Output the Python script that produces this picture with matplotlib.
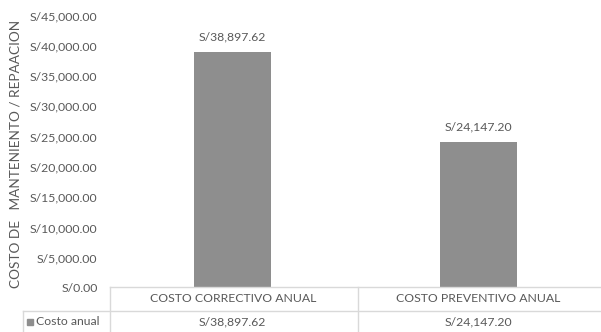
import matplotlib
matplotlib.use("Agg")
import matplotlib.pyplot as plt
from matplotlib.lines import Line2D
from matplotlib.patches import Rectangle

categories = ["COSTO CORRECTIVO ANUAL", "COSTO PREVENTIVO ANUAL"]
values = [38897.62, 24147.20]
series_name = "Costo anual"
y_ticks = [0, 5000, 10000, 15000, 20000, 25000, 30000, 35000, 40000, 45000]
y_label = "COSTO DE   MANTENIENTO / REPAACION"

def fmt(v):
    return "S/{:,.2f}".format(v)

W, H = 601, 332
plt.rcParams['font.family'] = ['Lato', 'DejaVu Sans']
txt = "#595959"
bar_c = "#8e8e8e"
line_c = "#d9d9d9"
fs = 8.8

fig = plt.figure(figsize=(W/100, H/100), dpi=100)
ax = fig.add_axes([110/W, 1-288/H, (601-110)/W, (288-15.5)/H])
x = list(range(len(categories)))
ax.bar(x, values, width=0.315, color=bar_c)
ax.set_xlim(-0.5, len(categories)-0.5)
ax.set_ylim(0, 45000)
ax.set_yticks(y_ticks)
ax.set_yticklabels([fmt(t) for t in y_ticks], color=txt, fontsize=fs)
ax.tick_params(axis='y', length=0, pad=9)
ax.set_xticks([])
for s in ax.spines.values():
    s.set_visible(False)
for xi, v in zip(x, values):
    ax.annotate(fmt(v), (xi, v), xytext=(0, 7), textcoords="offset points",
                ha="center", va="bottom", color=txt, fontsize=fs)

fig.text(16/W, 1-154/H, y_label, rotation=90, ha="center", va="center",
         color=txt, fontsize=9.8)

def fx(px): return px/W
def fy(py): return 1-py/H

lines = [
    ((110, 601), (287, 287)),
    ((23, 601), (310.5, 310.5)),
    ((110, 110), (287, 332)),
    ((357.7, 357.7), (287, 332)),
    ((23, 23), (310.5, 332)),
]
for (xs, ys) in lines:
    fig.add_artist(Line2D([fx(xs[0]), fx(xs[1])], [fy(ys[0]), fy(ys[1])],
                          color=line_c, lw=1.0, transform=fig.transFigure))

trans = matplotlib.transforms.blended_transform_factory(ax.transData, fig.transFigure)
for xi, c, v in zip(x, categories, values):
    ax.text(xi, fy(299), c, transform=trans, ha="center", va="center",
            color=txt, fontsize=fs, clip_on=False)
    ax.text(xi, fy(321.5), fmt(v), transform=trans, ha="center", va="center",
            color=txt, fontsize=fs, clip_on=False)

fig.add_artist(Rectangle((fx(27), fy(325)), 6/W, 6/H, color=bar_c,
                         transform=fig.transFigure))
fig.text(fx(36), fy(321.5), series_name, ha="left", va="center", color=txt, fontsize=fs)

fig.savefig("out.png", dpi=100, facecolor="white")
